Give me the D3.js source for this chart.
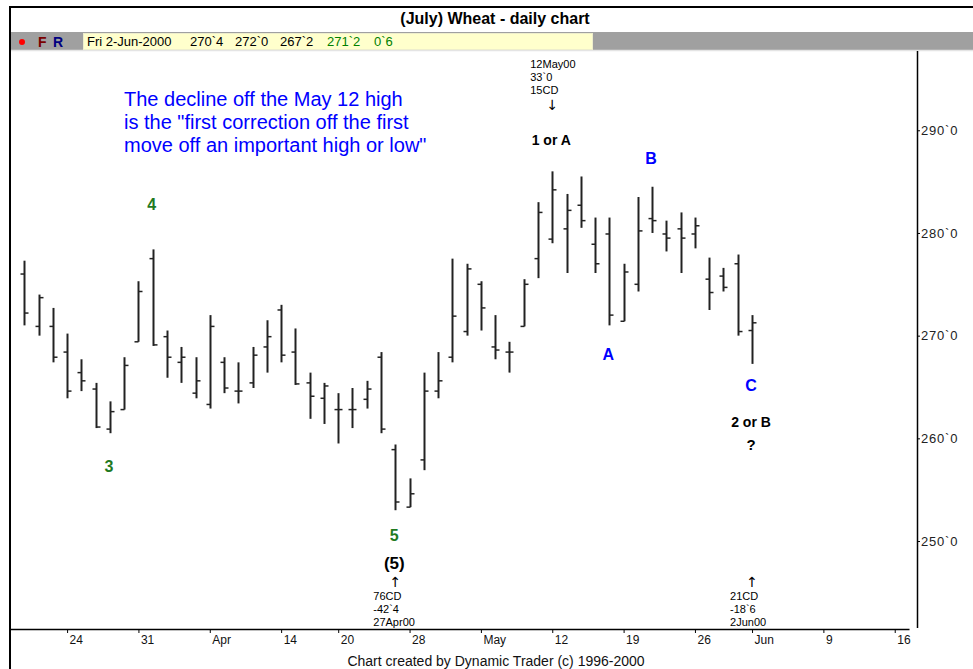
<!DOCTYPE html>
<html><head><meta charset="utf-8">
<script src="https://cdn.jsdelivr.net/npm/d3@7"></script>
<style>body{margin:0;background:#fff}svg{display:block}</style>
</head><body>
<svg id="c" width="973" height="669"></svg>
<script>
// ---------- data ----------
const dates = ["2000-03-21","2000-03-22","2000-03-23","2000-03-24","2000-03-27","2000-03-28","2000-03-29","2000-03-30","2000-03-31",
"2000-04-03","2000-04-04","2000-04-05","2000-04-06","2000-04-07","2000-04-10","2000-04-11","2000-04-12","2000-04-13","2000-04-14",
"2000-04-17","2000-04-18","2000-04-19","2000-04-20","2000-04-24","2000-04-25","2000-04-26","2000-04-27","2000-04-28",
"2000-05-01","2000-05-02","2000-05-03","2000-05-04","2000-05-05","2000-05-08","2000-05-09","2000-05-10","2000-05-11","2000-05-12",
"2000-05-15","2000-05-16","2000-05-17","2000-05-18","2000-05-19","2000-05-22","2000-05-23","2000-05-24","2000-05-25","2000-05-26",
"2000-05-30","2000-05-31","2000-06-01","2000-06-02"];
const opens  = [276.0,270.9,270.9,268.4,266.4,264.8,260.9,262.8,269.4, 277.5,269.9,267.4,264.4,263.3,267.4,264.6,265.4,268.9,272.5,
268.4,265.4,263.9,262.8,262.8,263.8,267.9,258.9,253.3, 257.9,264.6,267.9,270.4,275.0,268.9,268.4,270.9,277.5,279.4,
280.4,282.7,278.9,279.9,271.4,275.0,281.4,279.9,280.4,279.9, 275.5,275.8,277.0,270.5];
const highs  = [277.3,274.0,272.7,270.2,267.7,265.4,263.6,267.9,275.3, 278.4,270.5,268.9,267.9,272.0,267.9,267.4,268.9,271.5,273.0,
270.7,266.4,265.4,264.4,264.9,265.6,268.4,259.4,256.1, 266.4,268.4,277.5,277.0,275.3,272.0,269.4,275.5,283.0,286.0,
283.8,285.5,281.5,281.5,277.0,283.5,284.5,281.2,282.0,281.5, 277.6,276.6,277.9,272.0];
const lows   = [271.0,270.0,267.4,263.9,264.6,261.0,260.5,262.8,269.4, 269.0,265.9,265.4,263.9,262.9,264.4,263.4,264.9,266.4,267.4,
265.2,261.9,261.4,259.5,261.0,262.9,260.5,253.0,253.3, 256.9,263.9,267.4,270.0,270.5,267.7,266.4,270.9,275.6,279.0,
276.1,280.5,276.1,271.0,271.4,274.3,280.0,278.2,276.1,278.5, 272.5,274.3,270.0,267.25];
const closes = [272.2,273.7,267.9,264.6,265.6,261.1,262.6,267.1,274.3, 269.1,267.9,267.9,265.6,270.9,264.9,264.6,268.1,269.9,268.1,
265.3,264.1,265.1,262.8,262.8,264.8,260.9,253.8,254.6, 264.6,265.6,271.9,276.5,272.7,268.6,268.4,275.0,282.0,284.2,
282.2,281.2,277.0,272.0,276.2,280.2,281.2,279.5,279.5,280.7, 274.2,274.7,270.4,271.25];

const tickIdx    = [3,8,13,18,22,27,32,37,42,47,51,56,61];
const tickLabels = ["24","31","Apr","14","20","28","May","12","19","26","Jun","9","16"];
const priceTicks = [250,260,270,280,290];

const titleText  = "(July) Wheat - daily chart";
const footerText = "Chart created by Dynamic Trader (c) 1996-2000";
const infoDate   = "Fri 2-Jun-2000";
const infoValues = ["270`4","272`0","267`2","271`2","0`6"];
const infoColors = ["#000","#000","#000","#008000","#008000"];

const noteLines = ["The decline off the May 12 high","is the \"first correction off the first","move off an important high or low\""];

// wave labels: text, bar index, price level (centre), colour, size
const waveText  = ["4","3","5","(5)","1 or A","B","A","C","2 or B","?"];
const waveIdx   = [9,6,26,26,37,44,41,51,51,51];
const wavePrice = [282.8,257.3,250.6,247.85,289.06,287.3,268.2,265.15,261.55,259.36];
const waveColor = ["#1f7a1f","#1f7a1f","#1f7a1f","#000","#000","#0000ff","#0000ff","#0000ff","#000","#000"];
const waveSize  = [16,16,16,17,14,16,16,16,14,15];

// swing annotations
const swingIdx   = [37,26,51];
const swingLines = [["12May00","33`0","15CD"],["76CD","-42`4","27Apr00"],["21CD","-18`6","2Jun00"]];
const swingUp    = [false,true,true];

// ---------- layout ----------
const svg = d3.select("#c");
const plotL = 10, plotR = 909, plotT = 51, plotB = 628, axisX = 917;
const x = d3.scaleLinear().domain([-1, 62]).range([plotL, plotR]);
const y = d3.scaleLinear().domain([241.53, 297.72]).range([plotB, plotT]);
const FF = "'Liberation Sans', Arial, sans-serif";

// frame
svg.append("rect").attr("x",0).attr("y",0).attr("width",973).attr("height",669).attr("fill","#fff");
svg.append("line").attr("x1",10).attr("x2",973).attr("y1",7).attr("y2",7).attr("stroke","#000").attr("stroke-width",2);
svg.append("line").attr("x1",10).attr("x2",10).attr("y1",6).attr("y2",669).attr("stroke","#000").attr("stroke-width",2);
svg.append("text").attr("x",495).attr("y",24).attr("text-anchor","middle")
  .attr("font-family",FF).attr("font-size",16).attr("font-weight","bold").text(titleText);

// info bar
svg.append("rect").attr("x",11).attr("y",32).attr("width",962).attr("height",18).attr("fill","#a0a0a0");
svg.append("line").attr("x1",11).attr("x2",973).attr("y1",50.5).attr("y2",50.5).attr("stroke","#e4e4e4").attr("stroke-width",1.5);
svg.append("circle").attr("cx",22).attr("cy",42).attr("r",3).attr("fill","#ff0000");
svg.append("text").attr("x",38).attr("y",47).attr("font-family",FF).attr("font-size",14).attr("font-weight","bold").attr("fill","#7a0000").text("F");
svg.append("text").attr("x",53).attr("y",47).attr("font-family",FF).attr("font-size",14).attr("font-weight","bold").attr("fill","#000080").text("R");
svg.append("rect").attr("x",83.5).attr("y",33.5).attr("width",509).attr("height",16).attr("fill","#ffffcc").attr("stroke","#eeeecc");
const infoG = svg.append("g").attr("font-family",FF).attr("font-size",13);
infoG.append("text").attr("x",87).attr("y",46).text(infoDate);
const infoX = [190,235,280,327,374];
infoValues.forEach((v,i)=>infoG.append("text").attr("x",infoX[i]).attr("y",46).attr("fill",infoColors[i]).text(v));

// axes
const yAxis = d3.axisRight(y).tickValues(priceTicks).tickFormat(d=>d+"`0").tickSize(3).tickSizeOuter(0);
const gy = svg.append("g").attr("transform",`translate(${axisX},0)`).call(yAxis);
gy.select(".domain").attr("d",`M0.5,${plotT}V${plotB}`).attr("stroke","#000").attr("stroke-width",1.5);
gy.selectAll(".tick line").attr("stroke","#000");
gy.selectAll(".tick text").attr("x",4).attr("font-family",FF).attr("font-size",13).attr("letter-spacing","0.8px").attr("fill","#222");

const xAxis = d3.axisBottom(x).tickValues(tickIdx).tickFormat((d,i)=>tickLabels[i]).tickSize(4).tickSizeOuter(0);
const gx = svg.append("g").attr("transform",`translate(0,${plotB+1})`).call(xAxis);
gx.select(".domain").attr("stroke","#000").attr("stroke-width",1.5);
gx.selectAll(".tick line").attr("stroke","#000");
gx.selectAll(".tick text").attr("x",2).attr("y",6).attr("text-anchor","start")
  .attr("font-family",FF).attr("font-size",12).attr("fill","#111");

svg.append("text").attr("x",496).attr("y",666).attr("text-anchor","middle")
  .attr("font-family",FF).attr("font-size",14).attr("fill","#111").text(footerText);

// bars
const barG = svg.append("g").attr("stroke","#222");
dates.forEach((d,i)=>{
  const cx = Math.round(x(i)) + 0.5;
  barG.append("line").attr("x1",cx).attr("x2",cx).attr("y1",y(highs[i])).attr("y2",y(lows[i])).attr("stroke-width",2);
  barG.append("line").attr("x1",cx-4).attr("x2",cx).attr("y1",y(opens[i])).attr("y2",y(opens[i])).attr("stroke-width",1.5);
  barG.append("line").attr("x1",cx).attr("x2",cx+4).attr("y1",y(closes[i])).attr("y2",y(closes[i])).attr("stroke-width",1.5);
});

// note text
const noteG = svg.append("g").attr("font-family",FF).attr("font-size",20).attr("fill","#0000ff");
noteLines.forEach((t,i)=>noteG.append("text").attr("x",124).attr("y",106+i*23).text(t));

// wave labels
waveText.forEach((t,i)=>{
  svg.append("text").attr("x",x(waveIdx[i])-1).attr("y",y(wavePrice[i])).attr("dy","0.36em")
    .attr("text-anchor","middle").attr("font-family",FF).attr("font-weight","bold")
    .attr("font-size",waveSize[i]).attr("fill",waveColor[i]).text(t);
});

// swing annotations
swingIdx.forEach((idx,k)=>{
  const bx = x(idx);
  const g = svg.append("g").attr("font-family",FF).attr("font-size",11).attr("fill","#000");
  if (swingUp[k]) {
    g.append("text").attr("x",bx).attr("y",586.5).attr("text-anchor","middle").attr("font-family","'DejaVu Sans'").attr("font-size",14).text("↑");
    swingLines[k].forEach((t,j)=>g.append("text").attr("x",bx-22).attr("y",600+j*13).text(t));
  } else {
    swingLines[k].forEach((t,j)=>g.append("text").attr("x",bx-22).attr("y",68+j*13).text(t));
    g.append("text").attr("x",bx).attr("y",110).attr("text-anchor","middle").attr("font-family","'DejaVu Sans'").attr("font-size",14).text("↓");
  }
});
</script>
</body></html>
